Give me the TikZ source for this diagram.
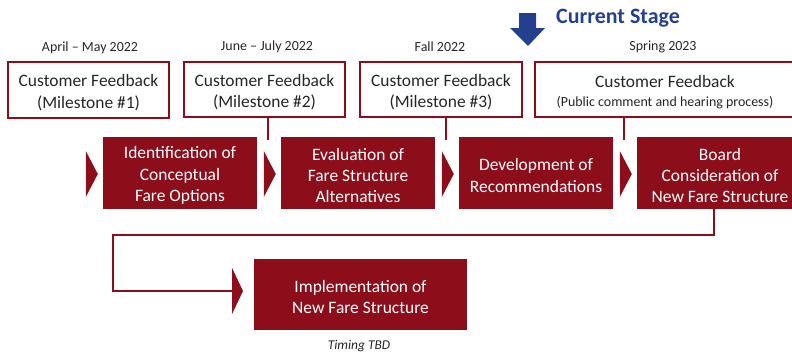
\documentclass[tikz,border=0pt]{standalone}
\usepackage{fontspec}
\setmainfont{Carlito}
\usetikzlibrary{arrows.meta}
\definecolor{maroon}{RGB}{139,14,26}
\definecolor{stageblue}{RGB}{35,64,142}
\definecolor{ink}{RGB}{38,38,38}
% taller first line so the text sits a little lower in its box
\newcommand\boxstrut{\rule{0pt}{17bp}}
\begin{document}
\begin{tikzpicture}[x=1bp,y=-1bp,
  feedback/.style={draw=maroon,line width=2bp,fill=white,text=ink,align=center,
    inner sep=0pt,font=\fontsize{17.5}{21.5}\selectfont},
  stagebox/.style={fill=maroon,draw=none,text=white,align=center,inner sep=0pt,
    font=\fontsize{17.5}{21.5}\selectfont},
  datelabel/.style={text=ink,font=\fontsize{14}{16}\selectfont,inner sep=0pt},
  chev/.style={fill=maroon,draw=none},
  link/.style={draw=maroon,line width=2bp}]
\useasboundingbox (0,0) rectangle (792,354);

% feedback boxes along the top
\node[feedback,minimum width=161bp,minimum height=56bp] (fb1) at (88.5,90)
  {\boxstrut Customer Feedback\\(Milestone \#1)};
\node[feedback,minimum width=161bp,minimum height=55bp] (fb2) at (264.5,89.5)
  {\boxstrut Customer Feedback\\(Milestone \#2)};
\node[feedback,minimum width=162bp,minimum height=55bp] (fb3) at (441,89.5)
  {\boxstrut Customer Feedback\\(Milestone \#3)};
\node[feedback,minimum width=260bp,minimum height=55bp] (fb4) at (665,89.5)
  {\boxstrut Customer Feedback\\[-2bp]{\fontsize{14}{16}\selectfont(Public comment and hearing process)}};

% dates above the boxes
\node[datelabel] (d1) at (90,48) {April – May 2022};
\node[datelabel] (d2) at (267,47) {June – July 2022};
\node[datelabel] (d3) at (440,47) {Fall 2022};
\node[datelabel] (d4) at (663,47) {Spring 2023};

% current stage marker
\fill[stageblue] (519,13) -- (536,13) -- (536,28) -- (545,28) -- (528,46) -- (510,28) -- (519,28) -- cycle;
\node[text=stageblue,font=\fontsize{22}{24}\selectfont\bfseries,anchor=west,inner sep=0pt] (cur) at (556,18) {Current Stage};

% process steps
\node[stagebox,minimum width=154bp,minimum height=72bp] (s1) at (180,173)
  {\boxstrut Identification of\\Conceptual\\Fare Options};
\node[stagebox,minimum width=154bp,minimum height=72bp] (s2) at (358,173)
  {\boxstrut Evaluation of\\Fare Structure\\Alternatives};
\node[stagebox,minimum width=154bp,minimum height=72bp] (s3) at (536,173)
  {\boxstrut Development of\\Recommendations};
\node[stagebox,minimum width=166bp,minimum height=72bp] (s4) at (720,173)
  {\boxstrut Board\\Consideration of\\New Fare Structure};
\node[stagebox,minimum width=213bp,minimum height=71bp] (s5) at (360.5,294.5)
  {\boxstrut Implementation of\\New Fare Structure};
\node[text=ink,font=\fontsize{13.5}{15}\selectfont\itshape,inner sep=0pt] (tbd) at (359,346) {Timing TBD};

% chevrons in front of each step
\foreach \n in {s1,s2,s3,s4}{
  \fill[chev] ([xshift=-17bp]\n.west |- 0,151) -- ([xshift=-17bp]\n.west |- 0,197)
    -- ([xshift=-5bp]\n.west |- 0,174) -- cycle;
}

% ticks from feedback boxes down to the step row
\coordinate (t2) at (268,140);
\coordinate (t3) at (446,140);
\coordinate (t4) at (624,140);
\draw[link] (t2 |- fb2.south) -- (t2);
\draw[link] (t3 |- fb3.south) -- (t3);
\draw[link] (t4 |- fb4.south) -- (t4);

% return path to the final step
\coordinate (r1) at (714,235);
\coordinate (r2) at (113,291);
\coordinate (r3) at (243,291);
\draw[link,-{Triangle[length=11bp,width=46bp]}]
  (r1 |- s4.south) -- (r1) -| (r2) -- (r3);
\end{tikzpicture}
\end{document}
